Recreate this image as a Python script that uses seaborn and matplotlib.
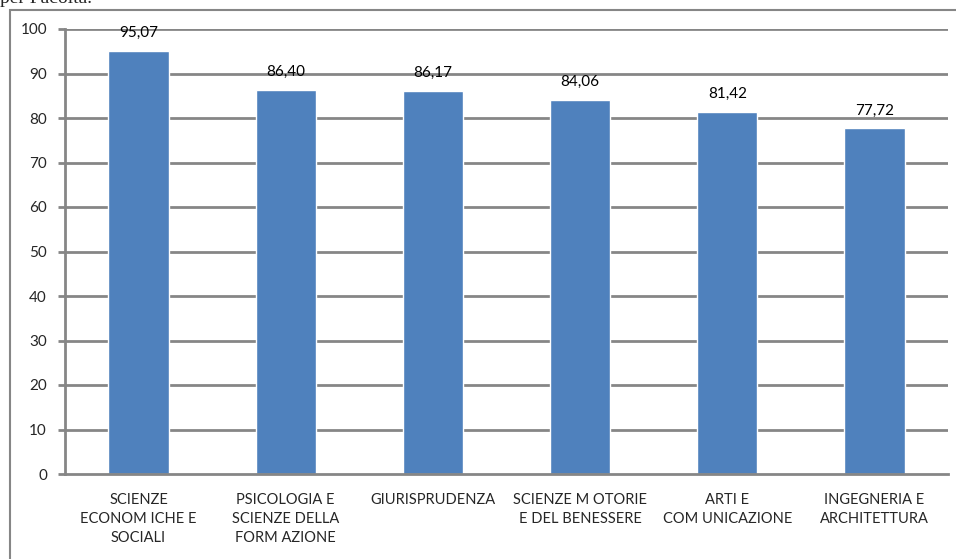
import matplotlib
matplotlib.use("Agg")
import matplotlib.pyplot as plt
import seaborn as sns
import pandas as pd
from matplotlib.patches import Rectangle

categories = ["SCIENZE\nECONOM ICHE E\nSOCIALI", "PSICOLOGIA E\nSCIENZE DELLA\nFORM AZIONE",
              "GIURISPRUDENZA", "SCIENZE M OTORIE\nE DEL BENESSERE", "ARTI E\nCOM UNICAZIONE",
              "INGEGNERIA E\nARCHITETTURA"]
values = [95.07, 86.40, 86.17, 84.06, 81.42, 77.72]
yticks = [0, 10, 20, 30, 40, 50, 60, 70, 80, 90, 100]

sns.set_style("white")
plt.rcParams['font.family'] = ['Lato', 'DejaVu Sans']

df = pd.DataFrame({"cat": categories, "val": values})

fig = plt.figure(figsize=(9.56, 5.59), dpi=100)
ax = fig.add_axes([65/956, 1-474/559, (948-65)/956, (474-29)/559])

grid_c = "#868686"
for t in yticks[1:]:
    ax.axhline(t, color=grid_c, lw=2, zorder=0)

sns.barplot(data=df, x="cat", y="val", color="#4f81bd", width=0.41, ax=ax,
            saturation=1, zorder=2)

for i, v in enumerate(values):
    ax.text(i, v + 2.4, f"{v:.2f}".replace(".", ","), ha="center", va="bottom",
            fontsize=11, color="#000000")

ax.set_ylim(0, 100)
ax.set_xlim(-0.5, len(categories) - 0.5)
ax.set_yticks(yticks)
ax.set_xlabel("")
ax.set_ylabel("")
ax.tick_params(axis="y", length=5, width=2, color=grid_c, labelsize=11, pad=8, left=True)
ax.set_xticks(range(len(categories)))
ax.set_xticklabels(categories, fontsize=10.5, linespacing=1.45)
ax.tick_params(axis="x", length=0, pad=14)
ax.set_xticks([i - 0.5 for i in range(len(categories) + 1)], minor=True)
ax.tick_params(axis="x", which="minor", length=5, width=2, color=grid_c)
for s in ["top", "right"]:
    ax.spines[s].set_visible(False)
for s in ["left", "bottom"]:
    ax.spines[s].set_color(grid_c)
    ax.spines[s].set_linewidth(2)

frame = Rectangle((10/956, -0.05), 1.0, 1 - 10/559 + 0.05, transform=fig.transFigure,
                  fill=False, edgecolor="#868686", lw=1.5, zorder=0)
fig.patches.append(frame)

fig.text(0.0, 1 - 3/559, "per Facoltà.", family="Liberation Serif", fontsize=14,
         va="baseline", ha="left")

fig.savefig("out.png", dpi=100)
